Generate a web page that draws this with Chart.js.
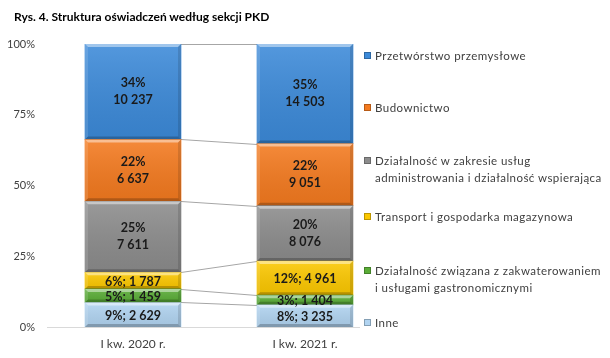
<!DOCTYPE html>
<html>
<head>
<meta charset="utf-8">
<script src="https://cdn.jsdelivr.net/npm/chart.js@4"></script>
<style>
    body { margin: 0; background: #fff; }
    #wrap { position: relative; width: 610px; height: 358px; font-family: Lato, sans-serif; }
    #title { position: absolute; left: 14px; top: 9px; font-weight: bold; font-size: 12px; color: #000; }
    #chart { position: absolute; left: 0; top: 0; }
    .item { position: absolute; left: 364px; font-size: 11.5px; letter-spacing: 0.45px; line-height: 17px; color: #404040; }
    .mark { position: absolute; left: 0; top: 5px; width: 7px; height: 7px; box-sizing: border-box; }
    .txt { position: absolute; left: 11px; white-space: pre; }
</style>
</head>
<body>
<div id="wrap">
    <canvas id="chart" width="610" height="358"></canvas>
    <div id="title">Rys. 4. Struktura oświadczeń według sekcji PKD</div>
    <div id="legend"></div>
</div>
<script>
    // Dane: liczba oświadczeń według sekcji PKD
    var categories = ['I kw. 2020 r.', 'I kw. 2021 r.'];
    var seriesNames = [
        'Inne',
        'Działalność związana z zakwaterowaniem\ni usługami gastronomicznymi',
        'Transport i gospodarka magazynowa',
        'Działalność w zakresie usług\nadministrowania i działalność wspierająca',
        'Budownictwo',
        'Przetwórstwo przemysłowe'
    ];
    var inne = [2629, 3235];
    var gastronomia = [1459, 1404];
    var transport = [1787, 4961];
    var administrowanie = [7611, 8076];
    var budownictwo = [6637, 9051];
    var przetworstwo = [10237, 14503];
    var yTicks = [0, 25, 50, 75, 100];

    var series = [inne, gastronomia, transport, administrowanie, budownictwo, przetworstwo];
    var colors = ['#b1d4f1', '#5aad37', '#fcc800', '#8c8c8c', '#f47a1f', '#3c8ad9'];
    var legendTops = [314, 262, 208, 152, 99, 47];

    var totals = categories.map(function (c, j) {
        return series.reduce(function (s, arr) { return s + arr[j]; }, 0);
    });

    function fmt(n) {
        return String(n).replace(/\B(?=(\d{3})+(?!\d))/g, ' ');
    }

    // Linie serii (łączące segmenty) + oś X
    var seriesLines = {
        id: 'seriesLines',
        beforeDatasetsDraw: function (chart) {
            var ctx = chart.ctx;
            ctx.save();
            ctx.strokeStyle = '#a6a6a6';
            ctx.lineWidth = 1;
            chart.data.datasets.forEach(function (ds, i) {
                var m = chart.getDatasetMeta(i).data;
                ctx.beginPath();
                ctx.moveTo(m[0].x + m[0].width / 2, Math.round(m[0].y) + 0.5);
                ctx.lineTo(m[1].x - m[1].width / 2, Math.round(m[1].y) + 0.5);
                ctx.stroke();
            });
            var last = chart.getDatasetMeta(0).data[1];
            var a = chart.chartArea;
            ctx.strokeStyle = '#d9d9d9';
            ctx.beginPath();
            ctx.moveTo(a.left, Math.round(a.bottom) + 0.5);
            ctx.lineTo(last.x + last.width / 2 + 7, Math.round(a.bottom) + 0.5);
            ctx.stroke();
            ctx.restore();
        }
    };

    // Efekt wypukłości i etykiety danych
    var bevelLabels = {
        id: 'bevelLabels',
        afterDatasetsDraw: function (chart) {
            var ctx = chart.ctx;
            ctx.save();
            chart.data.datasets.forEach(function (ds, i) {
                chart.getDatasetMeta(i).data.forEach(function (el, j) {
                    var x0 = el.x - el.width / 2, x1 = el.x + el.width / 2;
                    var t = el.y, b = el.base, h = b - t, e = 3;
                    var g = ctx.createLinearGradient(0, t, 0, b);
                    g.addColorStop(0, 'rgba(255,255,255,0.12)');
                    g.addColorStop(1, 'rgba(0,0,0,0.08)');
                    ctx.fillStyle = g;
                    ctx.fillRect(x0, t, el.width, h);
                    ctx.fillStyle = 'rgba(255,255,255,0.45)';
                    ctx.beginPath();
                    ctx.moveTo(x0, t); ctx.lineTo(x1, t); ctx.lineTo(x1 - e, t + e); ctx.lineTo(x0 + e, t + e);
                    ctx.fill();
                    ctx.fillStyle = 'rgba(255,255,255,0.12)';
                    ctx.beginPath();
                    ctx.moveTo(x0, t); ctx.lineTo(x0 + e, t + e); ctx.lineTo(x0 + e, b - e); ctx.lineTo(x0, b);
                    ctx.fill();
                    ctx.fillStyle = 'rgba(0,0,0,0.12)';
                    ctx.beginPath();
                    ctx.moveTo(x1, t); ctx.lineTo(x1 - e, t + e); ctx.lineTo(x1 - e, b - e); ctx.lineTo(x1, b);
                    ctx.fill();
                    ctx.fillStyle = 'rgba(0,0,0,0.22)';
                    ctx.beginPath();
                    ctx.moveTo(x0, b); ctx.lineTo(x0 + e, b - e); ctx.lineTo(x1 - e, b - e); ctx.lineTo(x1, b);
                    ctx.fill();

                    var n = ds.counts[j];
                    var p = Math.round(n / totals[j] * 100) + '%';
                    var cy = (t + b) / 2;
                    ctx.fillStyle = '#1a1a1a';
                    ctx.font = 'bold 12.5px Lato';
                    ctx.textAlign = 'center';
                    ctx.textBaseline = 'middle';
                    if (h > 40) {
                        ctx.fillText(p, el.x, cy - 8.5);
                        ctx.fillText(fmt(n), el.x, cy + 8.5);
                    } else {
                        ctx.fillText(p + '; ' + fmt(n), el.x, cy + 1);
                    }
                });
            });
            ctx.restore();
        }
    };

    var datasets = series.map(function (arr, i) {
        return {
            label: seriesNames[i],
            counts: arr,
            data: arr.map(function (v, j) { return v / totals[j] * 100; }),
            backgroundColor: colors[i],
            borderWidth: 0,
            barThickness: 96
        };
    });

    new Chart(document.getElementById('chart'), {
        type: 'bar',
        data: { labels: categories, datasets: datasets },
        options: {
            responsive: false,
            animation: false,
            layout: { padding: { top: 44, right: 219, bottom: 0, left: 0 } },
            plugins: { legend: { display: false }, tooltip: { enabled: false } },
            scales: {
                x: {
                    stacked: true,
                    offset: true,
                    grid: { display: false, drawTicks: false },
                    border: { display: false },
                    ticks: { color: '#404040', font: { family: 'Lato', size: 12 }, padding: 10 },
                    afterFit: function (s) { s.height = 31; }
                },
                y: {
                    stacked: true,
                    min: 0,
                    max: 100,
                    grid: { display: false, drawTicks: false },
                    border: { display: false },
                    afterBuildTicks: function (s) { s.ticks = yTicks.map(function (v) { return { value: v }; }); },
                    ticks: {
                        color: '#404040',
                        font: { family: 'Lato', size: 11 },
                        padding: 12,
                        callback: function (v) { return v + '%'; }
                    },
                    afterFit: function (s) { s.width = 47; }
                }
            }
        },
        plugins: [seriesLines, bevelLabels]
    });

    // Legenda (od góry: Przetwórstwo ... Inne)
    var legend = document.getElementById('legend');
    seriesNames.forEach(function (name, i) {
        var item = document.createElement('div');
        item.className = 'item';
        item.style.top = legendTops[i] + 'px';
        var mark = document.createElement('div');
        mark.className = 'mark';
        mark.style.background = colors[i];
        mark.style.border = '1px solid rgba(0,0,0,0.25)';
        var txt = document.createElement('div');
        txt.className = 'txt';
        txt.textContent = name;
        item.appendChild(mark);
        item.appendChild(txt);
        legend.appendChild(item);
    });
</script>
</body>
</html>
